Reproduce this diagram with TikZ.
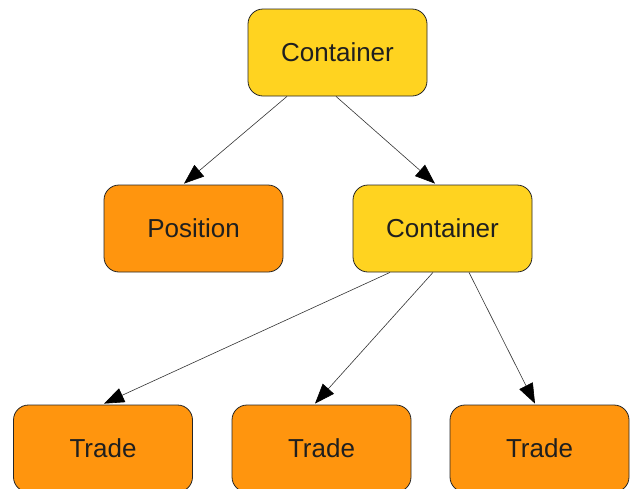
\documentclass[tikz,border=0pt]{standalone}
\usepackage{fontspec}
\setmainfont{Liberation Sans}
\usepackage{tikz}
\usetikzlibrary{calc,positioning,arrows.meta}
\definecolor{boxyellow}{HTML}{FFD320}
\definecolor{boxorange}{HTML}{FF950E}
\tikzset{
	box/.style={draw=black!85,line width=0.8pt,rounded corners=15pt,minimum width=179pt,minimum height=87pt,inner sep=0pt,font=\fontsize{26}{30}\selectfont,text=black!88},
	cont/.style={box,fill=boxyellow},
	leaf/.style={box,fill=boxorange},
	link/.style={draw=black!80,line width=0.6pt,-{Triangle[length=20pt,width=15pt,color=black]}}
}
\begin{document}
\begin{tikzpicture}[x=1pt,y=-1pt]
		\useasboundingbox (0,0) rectangle (631,488);
		\clip (0,0) rectangle (631,488);
		\begin{scope}
			\node(top) [cont] at (337.5,52.5) {Container};
			\node(pos) [leaf] at (193.5,228.5) {Position};
			\node(sub) [cont] at (442.5,228.5) {Container};
			\node(t1) [leaf] at (103,448.5) {Trade};
			\node(t2) [leaf] at (321.5,448.5) {Trade};
			\node(t3) [leaf] at (539.5,448.5) {Trade};
			\path
				([xshift=-50.5pt]top.south) edge[link] ([xshift=-9.5pt,yshift=1pt]pos.north)
				([xshift=-1.5pt]top.south) edge[link] ([xshift=-7.5pt,yshift=1pt]sub.north)
				([xshift=-52.5pt]sub.south) edge[link] ([xshift=1pt,yshift=1pt]t1.north)
				([xshift=-9.5pt]sub.south) edge[link] ([xshift=-6.5pt,yshift=1pt]t2.north)
				([xshift=26.5pt]sub.south) edge[link] ([xshift=-4.5pt,yshift=1pt]t3.north);
		\end{scope}
	\end{tikzpicture}
\end{document}
